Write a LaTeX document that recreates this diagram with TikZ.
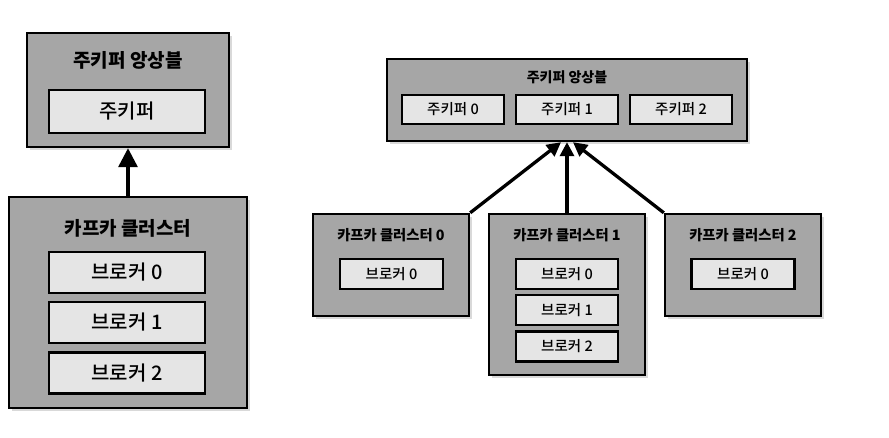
\documentclass[tikz,border=0pt]{standalone}
\usepackage{fontspec}
\setmainfont{Noto Sans CJK KR}[UprightFont=* Medium]
\newfontfamily\headfont{Noto Sans CJK KR}
\usepackage{tikz}
\usetikzlibrary{positioning, shadows, arrows.meta, calc}

\tikzset{
  outerbox/.style={draw, line width=2.4pt, fill=black!35, drop shadow={opacity=0.3, shadow xshift=3pt, shadow yshift=-3pt}},
  innerbox/.style={draw, line width=2.2pt, fill=black!10},
  link/.style={line width=3.3pt, -{Triangle[length=14pt, width=14pt]}}
}

\begin{document}
\begin{tikzpicture}[x=1pt, y=-1pt]
    \useasboundingbox (0,0) rectangle (889,438);
    % left: single ensemble and single cluster
    \node[outerbox, minimum width=202pt, minimum height=114pt] (zkens) at (128,90) {};
    \node[font=\fontsize{19}{21}\headfont\bfseries] (zkenstitle) at (128,60) {주키퍼 앙상블};
    \node[innerbox, minimum width=156pt, minimum height=43pt, font=\fontsize{20}{22}\selectfont] (zk) at (127,111.5) {주키퍼};
    \node[outerbox, minimum width=238pt, minimum height=211pt] (cluster) at (128,302.5) {};
    \node[font=\fontsize{19}{21}\headfont\bfseries] (clustertitle) at (128,228) {카프카 클러스터};
    \foreach \i/\y in {0/272.5, 1/322.5, 2/373}
      \node[innerbox, minimum width=156pt, minimum height=41pt, font=\fontsize{20}{22}\selectfont] (broker\i) at (127,\y) {브로커 \i};
    \draw[link, -{Triangle[length=19pt, width=19pt]}] (cluster.north) -- (zkens.south);

    % right: one ensemble, three clusters
    \node[outerbox, minimum width=360pt, minimum height=82pt] (zkensb) at (567,100) {};
    \node[font=\fontsize{14}{16}\headfont\bfseries] (zkensbtitle) at (567,77) {주키퍼 앙상블};
    \foreach \i/\x in {0/453, 1/567, 2/681}
      \node[innerbox, minimum width=102pt, minimum height=29pt, font=\fontsize{14.5}{16}\selectfont] (zk\i) at (\x,109.5) {주키퍼 \i};
    \node[outerbox, minimum width=156pt, minimum height=102pt] (clusterA) at (391,265) {};
    \node[outerbox, minimum width=156pt, minimum height=161pt] (clusterB) at (567,294.5) {};
    \node[outerbox, minimum width=156pt, minimum height=102pt] (clusterC) at (743,265) {};
    \foreach \i/\x in {0/391, 1/567, 2/743}
      \node[font=\fontsize{14.3}{16}\headfont\bfseries] (ctitle\i) at (\x,235) {카프카 클러스터 \i};
    \node[innerbox, minimum width=103pt, minimum height=30pt, font=\fontsize{14.5}{16}\selectfont] (brokerA) at (391.5,274) {브로커 0};
    \node[innerbox, minimum width=103pt, minimum height=30pt, font=\fontsize{14.5}{16}\selectfont] (brokerC) at (743,274) {브로커 0};
    \foreach \i/\y in {0/274, 1/310, 2/346.5}
      \node[innerbox, minimum width=102pt, minimum height=30pt, font=\fontsize{14.5}{16}\selectfont] (brokerB\i) at (567,\y) {브로커 \i};
    \draw[link] (clusterA.north east) -- ([xshift=-6pt]zkensb.south);
    \draw[link] (clusterB.north) -- (zkensb.south);
    \draw[link] (clusterC.north west) -- ([xshift=6pt]zkensb.south);
\end{tikzpicture}
\end{document}
